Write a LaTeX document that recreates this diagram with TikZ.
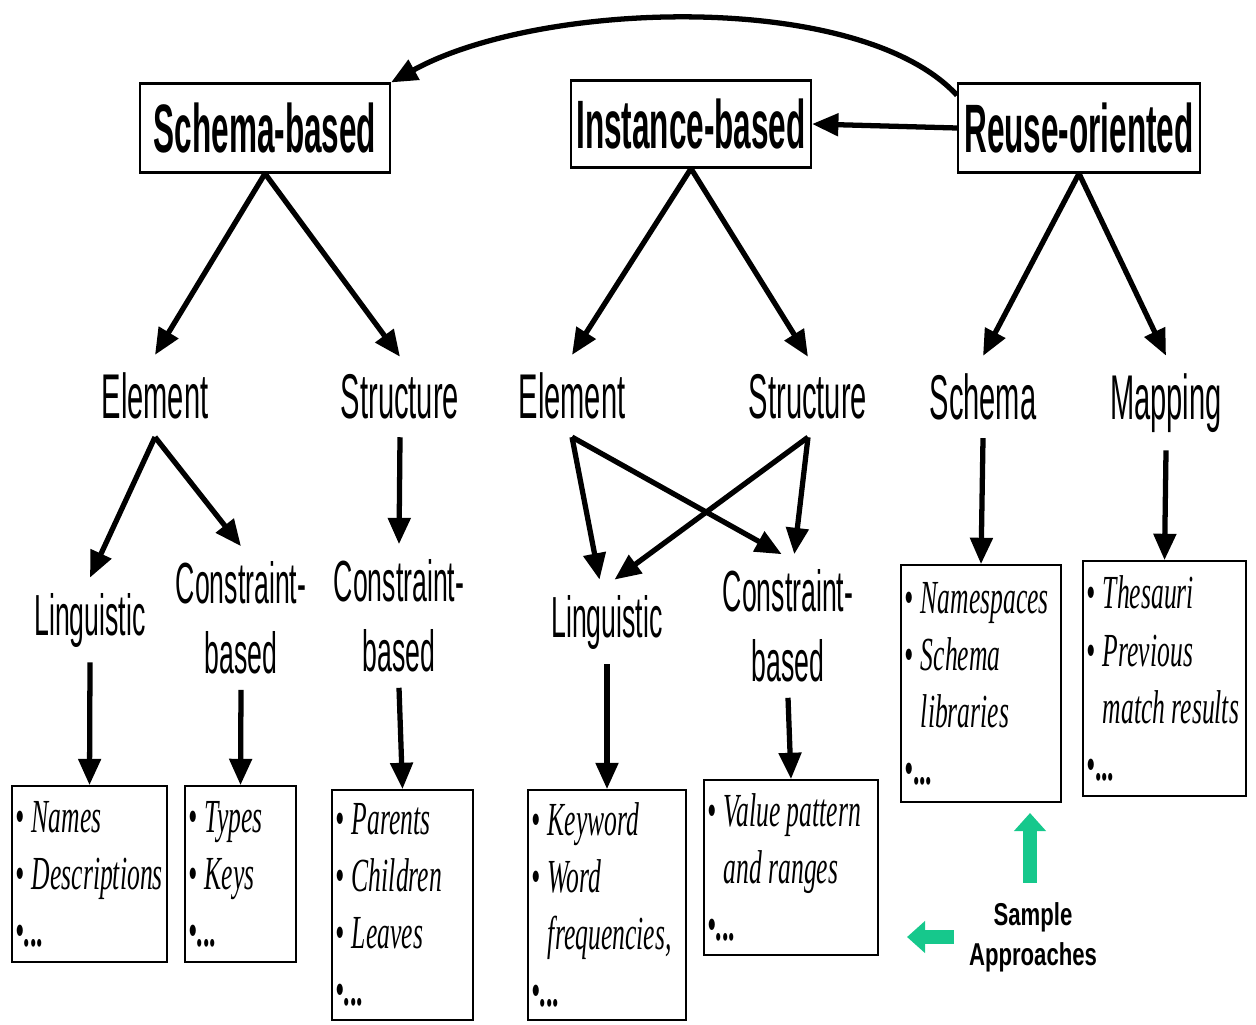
\documentclass[tikz,border=0pt]{standalone}
\usepackage{fontspec}
\usetikzlibrary{arrows.meta}
\newfontfamily\hdfont[FakeStretch=0.46]{Liberation Sans}
\newfontfamily\smfont[FakeStretch=0.7]{Liberation Sans}
\newfontfamily\itfont[FakeStretch=0.54]{Liberation Serif}
\definecolor{samplegreen}{RGB}{22,200,140}
\newcommand{\itb}{\textbullet\,}
\newcommand{\itc}{\phantom{\textbullet\,}}
\newcommand{\itdots}{\textbullet{\upshape\bfseries...}}
\newcommand{\wsp}{\hspace{0.13em}}
\tikzset{every node/.style={draw=none,inner sep=0pt},
  topbox/.style={draw,line width=1.2pt,font=\hdfont\bfseries\fontsize{39}{44}\selectfont,minimum height=1.78cm},
  lvl/.style={font=\hdfont\fontsize{36}{42}\selectfont,inner xsep=2pt,inner ysep=0.35cm},
  sub/.style={font=\hdfont\fontsize{33}{40}\selectfont,align=center,inner xsep=2pt,inner ysep=0.3cm},
  itembox/.style={draw,line width=1pt,align=left,inner xsep=0.06cm,font=\itfont\itshape\fontsize{27}{32.5}\selectfont},
  arr/.style={line width=3pt,-{Triangle[length=15pt,width=12.5pt]}},
  greenarr/.style={draw=samplegreen,line width=0.28cm,-{Triangle[length=0.36cm,width=0.62cm]}}}

\begin{document}
\begin{tikzpicture}[x=0.02cm,y=-0.02cm]
      \useasboundingbox (0,0) rectangle (1256,1024);
      \node[topbox,minimum width=5cm] (sb) at (265,128) {Schema-based};
      \node[topbox,minimum width=4.8cm,minimum height=1.74cm] (ib) at (691,124) {Instance-based};
      \node[topbox,minimum width=4.84cm] (ro) at (1079,128) {Reuse-oriented};

      \node[lvl] (se) at (155,396) {Element};
      \node[lvl] (ss) at (400,397) {Structure};
      \node[lvl] (ie) at (572,396) {Element};
      \node[lvl] (is) at (808,397) {Structure};
      \node[lvl] (rs) at (983,397) {Schema};
      \node[lvl] (rm) at (1166,403) {Mapping};

      \node[sub] (sl) at (90,620) {Linguistic};
      \node[sub] (sc) at (241,618) {Constraint-\\based};
      \node[sub] (scs) at (399,616) {Constraint-\\based};
      \node[sub] (il) at (607,622) {Linguistic};
      \node[sub] (ic) at (788,626) {Constraint-\\based};

      \node[itembox,text width=2.98cm,minimum height=3.52cm] (nm) at (89.5,874) {\itb Names\\\itb Descriptions\\\itdots};
      \node[itembox,text width=2.1cm,minimum height=3.52cm] (ty) at (240.5,874) {\itb Types\\\itb Keys\\\itdots};
      \node[itembox,text width=2.7cm,minimum height=4.6cm] (pa) at (402.5,905) {\itb Parents\\\itb Children\\\itb Leaves\\\itdots};
      \node[itembox,text width=3.04cm,minimum height=4.6cm] (kw) at (607,905) {\itb Keyword\\\itb Word\\\itc frequencies,\\\itdots};
      \node[itembox,text width=3.36cm,minimum height=3.5cm] (vp) at (791,867.5) {\itb Value\wsp pattern\\\itc and\wsp ranges\\\itdots};
      \node[itembox,text width=3.08cm,minimum height=4.74cm] (ns) at (981,683.5) {\itb Namespaces\\\itb Schema\\\itc libraries\\\itdots};
      \node[itembox,text width=3.14cm,minimum height=4.7cm] (th) at (1164.5,678.5) {\itb Thesauri\\\itb Previous\\\itc match\wsp results\\\itdots};

      \node[font=\smfont\bfseries\fontsize{18}{22.7}\selectfont,align=center] (sa) at (1033,937) {Sample\\Approaches};
      \coordinate (upTip) at (1030,813);
      \coordinate (leftTip) at (907,937);

\foreach \a/\b in {sb/se,sb/ss,ib/ie,ib/is,ro/rs,ro/rm,se/sl,se/sc,ss/scs,rs/ns,rm/th,sl/nm,sc/ty,scs/pa,il/kw,ic/vp}
  \draw[arr] (\a.south) -- (\b.north);
\foreach \a/\b in {ie/il.100,ie/ic.95,is/il.80,is/ic.85}
  \draw[arr] (\a.south) -- (\b);
\draw[arr] (ro.west) -- (ib.east);
\draw[arr] (ro.165) .. controls (860,-10) and (540,0) .. (sb.north east);
\draw[greenarr,shorten <=0.38cm] (sa.north -| upTip) -- (upTip);
\draw[greenarr,shorten <=0.3cm] (sa.west |- leftTip) -- (leftTip);
    \end{tikzpicture}
\end{document}
